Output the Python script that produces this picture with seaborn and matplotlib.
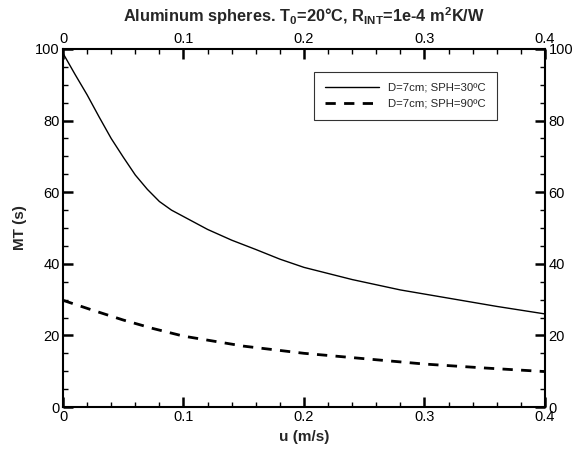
import numpy as np
import pandas as pd
import seaborn as sns
import matplotlib.pyplot as plt
from matplotlib.ticker import MultipleLocator, FuncFormatter

# D=7cm, SPH=30ºC
u_30 = [0, 0.01, 0.02, 0.03, 0.04, 0.05, 0.06, 0.07, 0.08, 0.09, 0.1,
        0.12, 0.14, 0.16, 0.18, 0.2, 0.24, 0.28, 0.32, 0.36, 0.4]
mt_30 = [98.8, 92.9, 87.2, 81.0, 75.0, 69.8, 64.8, 60.8, 57.4, 55.0, 53.2,
         49.6, 46.6, 44.0, 41.3, 39.0, 35.6, 32.7, 30.4, 28.1, 26.0]

# D=7cm, SPH=90ºC
u_90 = [0, 0.025, 0.05, 0.075, 0.1, 0.15, 0.2, 0.25, 0.3, 0.35, 0.4]
mt_90 = [29.8, 27.0, 24.3, 21.9, 19.8, 17.0, 15.0, 13.5, 12.0, 10.9, 9.9]

labels = ['D=7cm; SPH=30ºC', 'D=7cm; SPH=90ºC']

df = pd.concat([
    pd.DataFrame({'u': u_30, 'MT': mt_30, 'serie': labels[0]}),
    pd.DataFrame({'u': u_90, 'MT': mt_90, 'serie': labels[1]}),
])

sns.set_style('ticks')
plt.rcParams['font.family'] = ['Liberation Sans', 'DejaVu Sans']
plt.rcParams['mathtext.default'] = 'regular'

fig = plt.figure(figsize=(5.85, 4.49), dpi=100)
ax = fig.add_axes([0.1077, 0.0935, 0.8239, 0.7974])

sns.lineplot(data=df, x='u', y='MT', hue='serie', style='serie',
             palette=['black', 'black'], dashes={labels[0]: '', labels[1]: (3.7, 3)},
             size='serie', sizes={labels[0]: 1.0, labels[1]: 2.0},
             ax=ax, legend=True)

ax.set_xlim(0, 0.4)
ax.set_ylim(0, 100)
ax.xaxis.set_major_locator(MultipleLocator(0.1))
ax.xaxis.set_minor_locator(MultipleLocator(0.02))
ax.yaxis.set_major_locator(MultipleLocator(20))
ax.yaxis.set_minor_locator(MultipleLocator(5))
ax.xaxis.set_major_formatter(FuncFormatter(lambda v, p: '%g' % round(v, 3)))
ax.yaxis.set_major_formatter(FuncFormatter(lambda v, p: '%g' % v))

for s in ax.spines.values():
    s.set_visible(True)
    s.set_linewidth(1.5)
    s.set_color('black')

ax.tick_params(which='both', direction='in', top=True, right=True,
               labeltop=True, labelright=True, labelsize=10.5, colors='black', pad=2.5)
ax.tick_params(which='major', length=7, width=1.8)
ax.tick_params(which='minor', length=3.5, width=1.0)

ax.set_xlabel('u (m/s)', fontsize=11, fontweight='bold', labelpad=4)
ax.set_ylabel('MT (s)', fontsize=11, fontweight='bold', labelpad=6)
ax.set_title('Aluminum spheres. T$_0$=20°C, R$_{INT}$=1e-4 m$^2$K/W',
             fontsize=11.8, fontweight='bold', pad=7)

h, l = ax.get_legend_handles_labels()
leg = ax.legend(h[-2:] if len(h) > 2 else h, labels, loc='upper right',
                bbox_to_anchor=(0.9, 0.936), borderaxespad=0, fontsize=8.2,
                handlelength=4.8, frameon=True, fancybox=False,
                borderpad=0.95, labelspacing=0.55)
leg.get_frame().set_edgecolor('black')
leg.get_frame().set_linewidth(0.8)

fig.savefig('out.png', dpi=100)
